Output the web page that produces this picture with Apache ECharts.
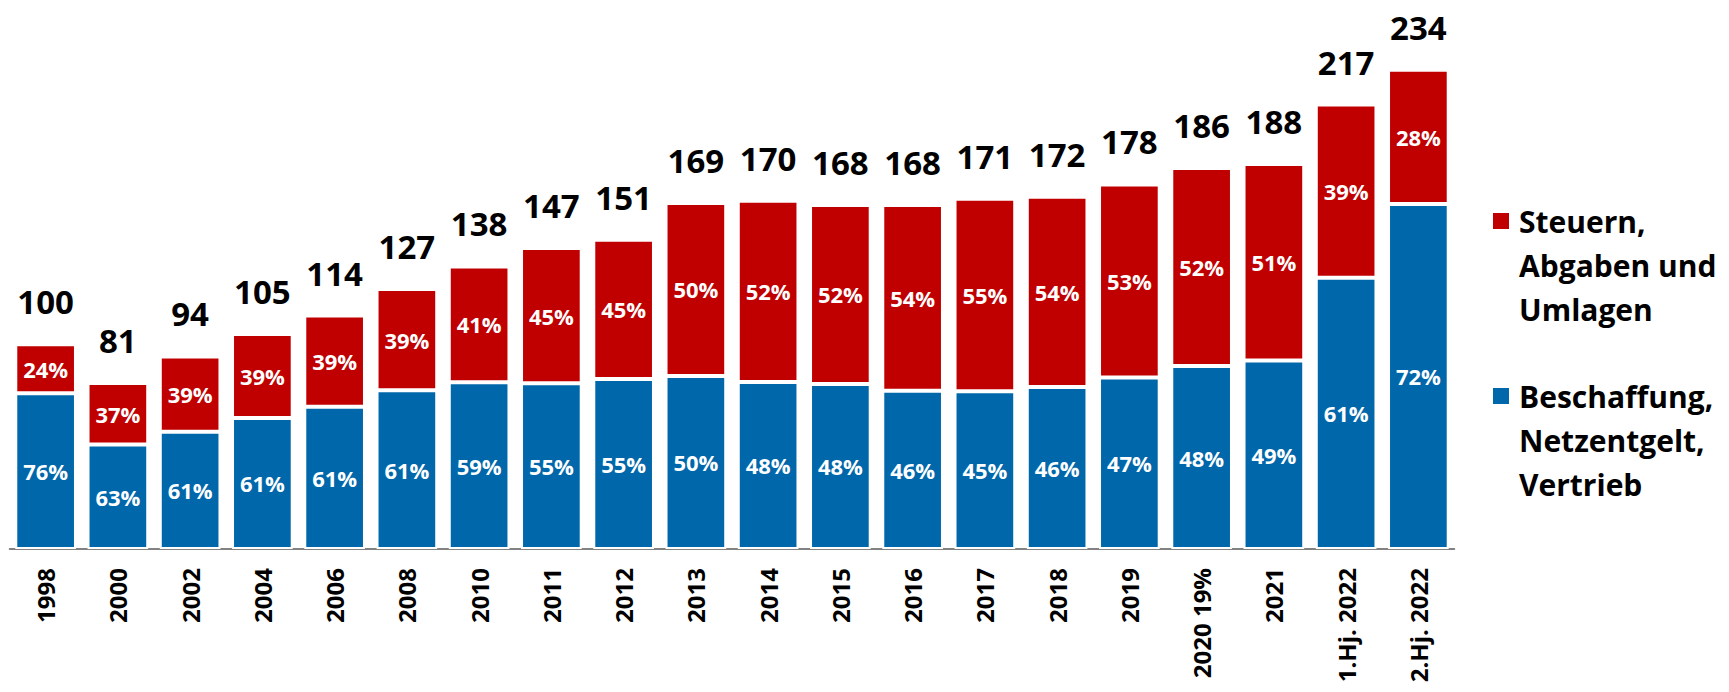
<!DOCTYPE html>
<html>
<head>
<meta charset="utf-8">
<script src="https://cdn.jsdelivr.net/npm/echarts@6/dist/echarts.min.js"></script>
<style>
html,body{margin:0;padding:0;background:#fff;}
#chart{width:1729px;height:692px;}
</style>
</head>
<body>
<div id="chart"></div>
<script>
const categories = ['1998','2000','2002','2004','2006','2008','2010','2011','2012','2013','2014','2015','2016','2017','2018','2019','2020 19%','2021','1.Hj. 2022','2.Hj. 2022'];
const totals = [100,81,94,105,114,127,138,147,151,169,170,168,168,171,172,178,186,188,217,234];
const bluePct = [76,63,61,61,61,61,59,55,55,50,48,48,46,45,46,47,48,49,61,72];
const redPct = [24,37,39,39,39,39,41,45,45,50,52,52,54,55,54,53,52,51,39,28];
const blueValues = [76.0,51.0,57.3,64.0,69.5,77.5,81.4,80.9,83.0,84.5,81.6,80.6,77.3,77.0,79.1,83.7,89.3,92.1,132.4,168.5];
const redValues = [24.0,30.0,36.7,41.0,44.5,49.5,56.6,66.1,68.0,84.5,88.4,87.4,90.7,94.0,92.9,94.3,96.7,95.9,84.6,65.5];
const redName = 'Steuern,\nAbgaben und\nUmlagen';
const blueName = 'Beschaffung,\nNetzentgelt,\nVertrieb';

const FONT = 'Open Sans';
const chart = echarts.init(document.getElementById('chart'), null, {renderer:'svg'});

function legendCfg(name, top){
  return {
    data:[name], orient:'vertical', left:1486, top:top,
    itemWidth:18, itemHeight:18, icon:'rect',
    formatter: function(n){ return '\n\n' + n; },
    textStyle:{fontFamily:FONT, fontWeight:'bold', fontSize:30, lineHeight:44, color:'#000', padding:[0,0,0,4]}
  };
}

chart.setOption({
  animation:false,
  legend:[legendCfg(redName, 106), legendCfg(blueName, 281)],
  grid:{left:9.5, right:274.5, top:37, bottom:143, containLabel:false},
  xAxis:{
    type:'category', data:categories,
    axisLine:{lineStyle:{color:'#595959', width:1.5}},
    axisTick:{show:false},
    axisLabel:{rotate:90, margin:19, interval:0, fontFamily:FONT, fontWeight:'bold', fontSize:24, color:'#000'}
  },
  yAxis:{type:'value', min:0, max:250, show:false, splitLine:{show:false}},
  series:[
    {
      name:blueName, type:'bar', stack:'a', data:blueValues, barCategoryGap:'16%',
      itemStyle:{color:'#0067ab', borderColor:'#fff', borderWidth:2},
      label:{show:true, position:'inside', color:'#fff', fontFamily:FONT, fontWeight:'bold', fontSize:22,
        formatter:p=>bluePct[p.dataIndex]+'%'}
    },
    {
      name:redName, type:'bar', stack:'a', data:redValues, barCategoryGap:'16%',
      itemStyle:{color:'#c00000', borderColor:'#fff', borderWidth:2},
      label:{show:true, position:'inside', color:'#fff', fontFamily:FONT, fontWeight:'bold', fontSize:22,
        formatter:p=>redPct[p.dataIndex]+'%'}
    },
    {
      name:'total', type:'scatter', data:totals, symbol:'rect', symbolSize:0,
      itemStyle:{color:'#000', opacity:1}, silent:true, z:5,
      label:{show:true, position:'top', distance:26, color:'#000', opacity:1, fontFamily:FONT, fontWeight:'bold', fontSize:33,
        formatter:p=>String(totals[p.dataIndex])}
    }
  ]
});
</script>
</body>
</html>
